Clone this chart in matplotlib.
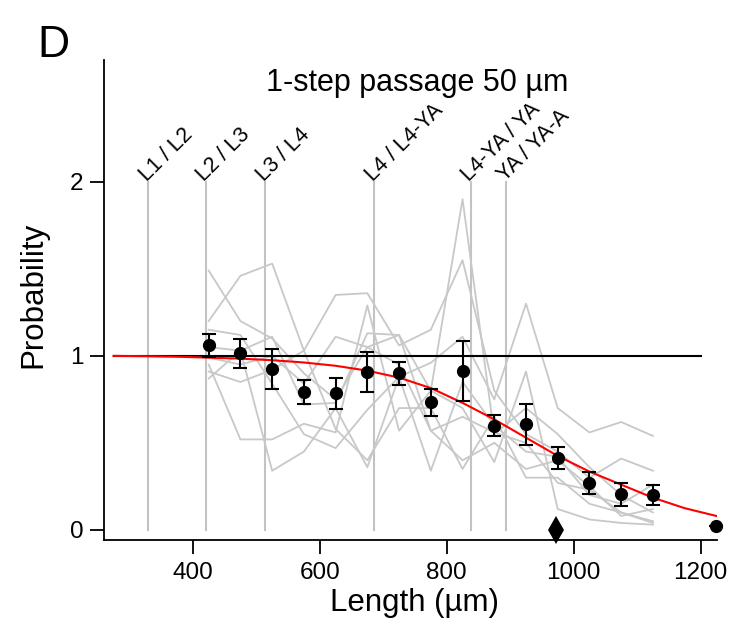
import matplotlib
matplotlib.use('Agg')
import matplotlib.pyplot as plt

plt.rcParams['font.family'] = ['Liberation Sans', 'DejaVu Sans']

# stage boundaries (um)
stage_x = [330, 420, 514, 686, 838, 894]
stage_labels = ['L1 / L2', 'L2 / L3', 'L3 / L4', 'L4 / L4-YA', 'L4-YA / YA', 'YA / YA-A']

# individual animals
trace_x = [425, 475, 525, 575, 625, 675, 725, 775, 825, 875, 925, 975, 1025, 1075, 1125]
traces = [
    [1.49, 1.20, 1.10, 0.90, 0.75, 1.05, 1.12, 0.80, 1.90, 0.55, 0.70, 0.55, 0.36, 0.20, 0.10],
    [1.20, 1.46, 1.53, 1.03, 1.35, 1.36, 1.06, 1.15, 1.55, 0.80, 0.55, 0.45, 0.30, 0.41, 0.34],
    [1.15, 1.12, 0.84, 0.55, 0.47, 0.69, 0.88, 0.96, 1.11, 0.75, 1.30, 0.70, 0.56, 0.62, 0.54],
    [1.05, 1.03, 1.11, 0.72, 0.73, 1.13, 1.12, 0.57, 0.65, 0.56, 0.50, 0.27, 0.23, 0.10, 0.04],
    [0.95, 0.52, 0.52, 0.61, 0.56, 1.29, 0.57, 0.80, 0.70, 0.39, 0.91, 0.12, 0.06, 0.04, 0.03],
    [0.87, 1.03, 0.34, 0.45, 0.70, 0.36, 0.88, 0.34, 0.85, 0.60, 0.45, 0.42, 0.20, 0.15, 0.26],
    [0.99, 0.95, 1.00, 0.84, 1.11, 1.05, 0.95, 0.57, 0.40, 0.50, 0.35, 0.40, 0.25, 0.08, 0.12],
    [0.91, 0.85, 0.92, 1.03, 0.58, 0.40, 0.70, 0.70, 0.35, 0.65, 0.30, 0.30, 0.15, 0.10, 0.05],
]

# mean +- sem
mean_x = [425, 475, 525, 575, 625, 675, 725, 775, 825, 875, 925, 975, 1025, 1075, 1125, 1225]
mean_y = [1.06, 1.014, 0.922, 0.792, 0.784, 0.908, 0.899, 0.733, 0.914, 0.598, 0.606, 0.415,
          0.271, 0.205, 0.20, 0.02]
mean_err = [0.066, 0.082, 0.115, 0.07, 0.09, 0.117, 0.066, 0.077, 0.172, 0.06, 0.12, 0.064,
            0.063, 0.065, 0.058, 0.0]

# fitted curve
fit_x = [275, 325, 375, 425, 475, 525, 575, 625, 675, 725, 775, 825, 875, 925, 975,
         1025, 1075, 1125, 1175, 1225]
fit_y = [1.0, 0.998, 0.995, 0.99, 0.984, 0.975, 0.962, 0.943, 0.915, 0.875, 0.815, 0.73,
         0.635, 0.53, 0.425, 0.335, 0.26, 0.185, 0.125, 0.08]

ref_x = [275, 1200]
ref_y = [1, 1]

marker_x = [972]
marker_y = [0]

fig = plt.figure(figsize=(7.32, 6.34), dpi=100)
ax = fig.add_axes([104 / 732, 1 - 540 / 634, (717 - 104) / 732, (540 - 60) / 634])

for x in stage_x:
    ax.plot([x, x], [0, 2], color='#c3c3c3', lw=1.5, zorder=1)
for x, lab in zip(stage_x, stage_labels):
    ax.annotate(lab, (x, 2), xytext=(-1, 0), textcoords='offset points',
                rotation=45, rotation_mode='anchor', ha='left', va='baseline', fontsize=15.5)

for tr in traces:
    ax.plot(trace_x, tr, color='#c8c8c8', lw=1.3, zorder=2)

ax.plot(ref_x, ref_y, color='black', lw=1.5, zorder=3)
ax.plot(fit_x, fit_y, color='red', lw=1.5, zorder=4)

ax.errorbar(mean_x, mean_y, yerr=mean_err, fmt='o', color='black', ms=8.5, capsize=5,
            elinewidth=1.5, capthick=1.5, zorder=5, clip_on=False)
ax.plot(marker_x, marker_y, 'd', color='black', ms=14, mew=0, zorder=5, clip_on=False)

ax.set_xlim(260, 1226)
ax.set_ylim(-0.058, 2.7)
ax.set_xticks([400, 600, 800, 1000, 1200])
ax.set_yticks([0, 1, 2])
ax.spines['top'].set_visible(False)
ax.spines['right'].set_visible(False)
for s in ['left', 'bottom']:
    ax.spines[s].set_linewidth(1.3)
ax.tick_params(direction='out', length=10, width=1.3, labelsize=17.5)
ax.tick_params(axis='x', pad=6)
ax.tick_params(axis='y', pad=5)
ax.set_xlabel('Length (µm)', fontsize=22.5)
ax.xaxis.set_label_coords((415 - 104) / (717 - 104), -0.1)
ax.set_ylabel('Probability', fontsize=22.5)
ax.yaxis.set_label_coords(-(104 - 48) / (717 - 104), (540 - 295) / (540 - 60))

fig.text(417 / 732, 1 - 91 / 634, '1-step passage 50 µm', fontsize=22, ha='center', va='baseline')
fig.text(37 / 732, 1 - 57 / 634, 'D', fontsize=32, ha='left', va='baseline')

fig.savefig('out.png', dpi=100)
